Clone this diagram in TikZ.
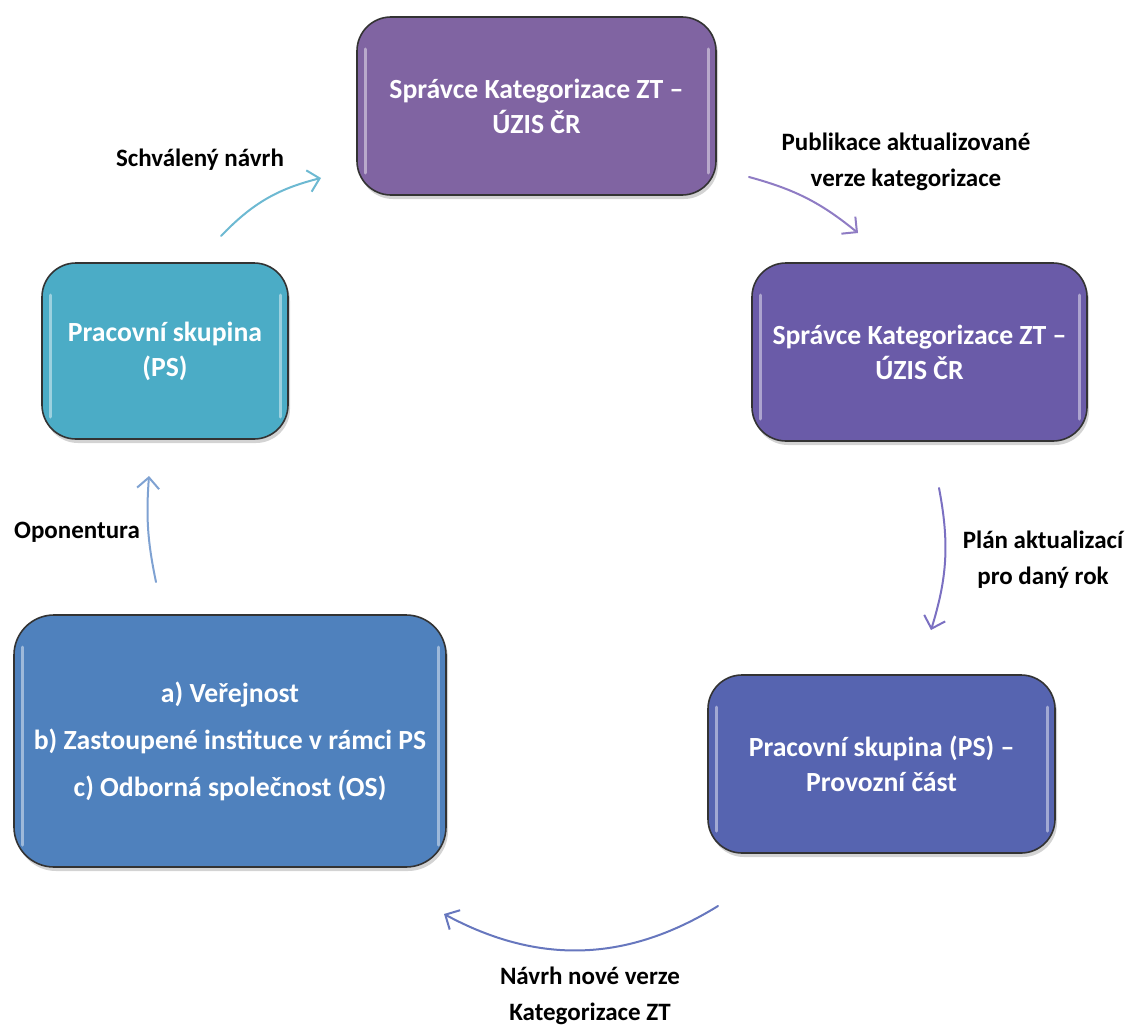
\documentclass[tikz,border=0pt]{standalone}
\usepackage{fontspec}
\setmainfont{Carlito}
\usetikzlibrary{arrows.meta,shadows}
\definecolor{cTop}{HTML}{8064A2}
\definecolor{cRight}{HTML}{6A5BA8}
\definecolor{cBR}{HTML}{5664B0}
\definecolor{cBL}{HTML}{4F81BD}
\definecolor{cLeft}{HTML}{4BACC6}
\definecolor{aCyan}{HTML}{6DB9D2}
\definecolor{aPurple}{HTML}{8F7CC4}
\definecolor{aViolet}{HTML}{7B70C2}
\definecolor{aBlue}{HTML}{6777BE}
\definecolor{aLBlue}{HTML}{7FA2D2}
\tikzset{
  box/.style={draw=black!80, line width=1.6pt, rounded corners=34pt, text=white,
    font=\fontsize{27.7}{35}\selectfont\bfseries, align=center, inner sep=0pt,
    drop shadow={opacity=0.35, shadow xshift=2pt, shadow yshift=-4pt},
    path picture={
      \draw[white, opacity=0.45, line width=3pt, line cap=round]
        ([xshift=8pt,yshift=-32pt]path picture bounding box.north west) --
        ([xshift=8pt,yshift=22pt]path picture bounding box.south west);
      \draw[white, opacity=0.45, line width=3pt, line cap=round]
        ([xshift=-8pt,yshift=-32pt]path picture bounding box.north east) --
        ([xshift=-8pt,yshift=22pt]path picture bounding box.south east);
    }},
  lbl/.style={font=\fontsize{25}{36}\selectfont\bfseries, align=center, text=black, inner sep=0pt},
  conn/.style={line width=2pt, -{Straight Barb[length=11pt,width=22pt,line width=2pt]}, line cap=round}
}
\begin{document}
\begin{tikzpicture}[x=1pt,y=-1pt]
\useasboundingbox (0,0) rectangle (1129,1025);
% boxes
\node[box, fill=cTop, minimum width=359pt, minimum height=178pt] (spr1) at (536.5,106) {Správce Kategorizace ZT –\\ÚZIS ČR};
\node[box, fill=cRight, minimum width=335pt, minimum height=178pt] (spr2) at (919.5,352) {Správce Kategorizace ZT –\\ÚZIS ČR};
\node[box, fill=cBR, minimum width=347pt, minimum height=178pt] (pso) at (881.5,764) {Pracovní skupina (PS) –\\Provozní část};
\node[box, fill=cBL, rounded corners=40pt, minimum width=432pt, minimum height=252pt] (opo) at (230,741) {a) Veřejnost\\[12pt] b) Zastoupené instituce v rámci PS\\[12pt] c) Odborná společnost (OS)};
\node[box, fill=cLeft, minimum width=246pt, minimum height=176pt] (ps) at (165,351) {Pracovní skupina\\(PS)};
% labels
\node[lbl] (l1) at (200,160) {Schválený návrh};
\node[lbl] (l2) at (906,162) {Publikace aktualizované\\verze kategorizace};
\node[lbl] (l3) at (1043,560) {Plán aktualizací\\pro daný rok};
\node[lbl] (l4) at (77,532) {Oponentura};
\node[lbl] (l5) at (590,996) {Návrh nové verze\\Kategorizace ZT};
% arrow end points
\coordinate (a1s) at (221,236); \coordinate (a1e) at (321,178);
\coordinate (a2s) at (749,177); \coordinate (a2e) at (858,233);
\coordinate (a3s) at (939,488); \coordinate (a3e) at (931,630);
\coordinate (a4s) at (718,906); \coordinate (a4e) at (444,914);
\coordinate (a5s) at (156,582); \coordinate (a5e) at (149,476);
% connectors
\draw[conn, aCyan] (a1s) to[bend left=16] (a1e);
\draw[conn, aPurple] (a2s) to[bend left=12] (a2e);
\draw[conn, aViolet] (a3s) to[bend left=14] (a3e);
\draw[conn, aBlue] (a4s) to[bend left=30] (a4e);
\draw[conn, aLBlue] (a5s) to[bend left=8] (a5e);
\end{tikzpicture}
\end{document}
